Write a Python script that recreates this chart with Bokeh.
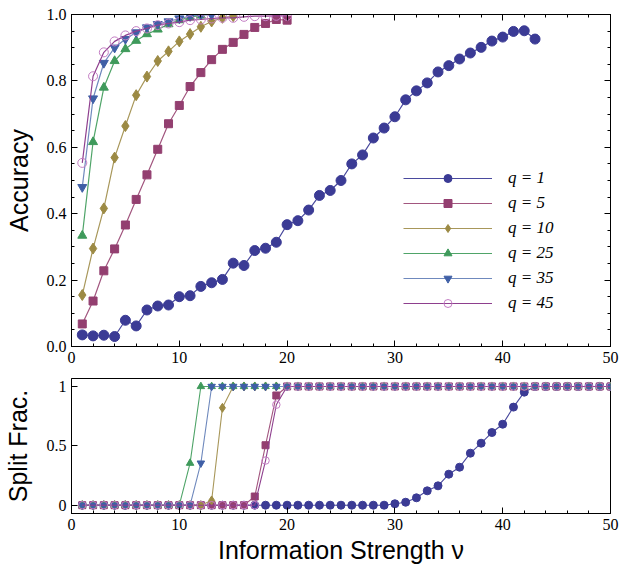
from bokeh.plotting import figure
from bokeh.layouts import column
from bokeh.models import (LinearAxis, SingleIntervalTicker, FixedTicker, Range1d,
                          Legend, LegendItem, PrintfTickFormatter)
from bokeh.embed import file_html
from bokeh.resources import INLINE

# ---- data -------------------------------------------------------------
q_labels = ["q = 1", "q = 5", "q = 10", "q = 25", "q = 35", "q = 45"]

# accuracy vs information strength, one list per q (nu starts at 1)
acc_q1 = [0.035, 0.032, 0.034, 0.030, 0.079, 0.062, 0.110, 0.122, 0.125, 0.150,
          0.153, 0.181, 0.192, 0.202, 0.251, 0.244, 0.289, 0.296, 0.314, 0.367,
          0.379, 0.411, 0.455, 0.470, 0.500, 0.550, 0.577, 0.628, 0.658, 0.692,
          0.743, 0.770, 0.794, 0.827, 0.846, 0.866, 0.884, 0.901, 0.920, 0.932,
          0.949, 0.951, 0.926]
acc_q5 = [0.068, 0.137, 0.228, 0.294, 0.366, 0.443, 0.517, 0.594, 0.671, 0.726,
          0.783, 0.825, 0.864, 0.895, 0.916, 0.940, 0.961, 0.973, 0.985, 0.983]
acc_q10 = [0.155, 0.295, 0.416, 0.569, 0.664, 0.757, 0.813, 0.860, 0.889, 0.919,
           0.941, 0.963, 0.979, 0.990, 0.995]
acc_q25 = [0.334, 0.616, 0.780, 0.860, 0.896, 0.921, 0.941, 0.955, 0.971, 0.983,
           0.992, 0.997]
acc_q35 = [0.480, 0.747, 0.854, 0.900, 0.926, 0.946, 0.961, 0.971, 0.979, 0.988,
           0.995, 0.999, 0.999]
acc_q45 = [0.553, 0.814, 0.886, 0.919, 0.937, 0.950, 0.958, 0.968, 0.973, 0.977,
           0.983, 0.985, 0.988, 0.990, 0.990, 0.993, 0.995, 0.995, 0.996, 0.996]

# split fraction, nu = 1 .. 50
split_q1 = [0, 0, 0, 0, 0, 0, 0, 0, 0, 0,
            0, 0, 0, 0, 0, 0, 0, 0, 0, 0,
            0, 0, 0, 0, 0, 0, 0, 0, 0, 0.012,
            0.025, 0.062, 0.121, 0.163, 0.261, 0.320, 0.438, 0.522, 0.612, 0.682,
            0.826, 0.952, 1, 1, 1, 1, 1, 1, 1, 1]
split_q5 = [0, 0, 0, 0, 0, 0, 0, 0, 0, 0,
            0, 0, 0, 0, 0, 0, 0.073, 0.505, 0.924, 1,
            1, 1, 1, 1, 1, 1, 1, 1, 1, 1,
            1, 1, 1, 1, 1, 1, 1, 1, 1, 1,
            1, 1, 1, 1, 1, 1, 1, 1, 1, 1]
split_q10 = [0, 0, 0, 0, 0, 0, 0, 0, 0, 0,
             0, 0, 0.04, 0.82, 1, 1, 1, 1, 1, 1,
             1, 1, 1, 1, 1, 1, 1, 1, 1, 1,
             1, 1, 1, 1, 1, 1, 1, 1, 1, 1,
             1, 1, 1, 1, 1, 1, 1, 1, 1, 1]
split_q25 = [0, 0, 0, 0, 0, 0, 0, 0, 0, 0,
             0.354, 1, 1, 1, 1, 1, 1, 1, 1, 1,
             1, 1, 1, 1, 1, 1, 1, 1, 1, 1,
             1, 1, 1, 1, 1, 1, 1, 1, 1, 1,
             1, 1, 1, 1, 1, 1, 1, 1, 1, 1]
split_q35 = [0, 0, 0, 0, 0, 0, 0, 0, 0, 0,
             0, 0.354, 1, 1, 1, 1, 1, 1, 1, 1,
             1, 1, 1, 1, 1, 1, 1, 1, 1, 1,
             1, 1, 1, 1, 1, 1, 1, 1, 1, 1,
             1, 1, 1, 1, 1, 1, 1, 1, 1, 1]
split_q45 = [0, 0, 0, 0, 0, 0, 0, 0, 0, 0,
             0, 0, 0, 0, 0, 0, 0, 0.376, 0.846, 1,
             1, 1, 1, 1, 1, 1, 1, 1, 1, 1,
             1, 1, 1, 1, 1, 1, 1, 1, 1, 1,
             1, 1, 1, 1, 1, 1, 1, 1, 1, 1]

accuracy = [acc_q1, acc_q5, acc_q10, acc_q25, acc_q35, acc_q45]
split = [split_q1, split_q5, split_q10, split_q25, split_q35, split_q45]

# ---- styles -----------------------------------------------------------
marker_colors = ["#3b3b95", "#933f70", "#9c8a44", "#3f9a5b", "#3f5fa6", "#c47ec4"]
line_colors = ["#4a4a9e", "#a2567f", "#a8975a", "#4fa468", "#6f89bd", "#8e3f8e"]
markers = ["circle", "square", "diamond", "triangle", "inverted_triangle", "circle"]
hollow = [False, False, False, False, False, True]
top_sizes = [10, 8, 11, 9, 9, 9]
bottom_sizes = [8, 7, 9, 7.5, 7.5, 7.5]

SERIF = "Liberation Serif"
SANS = "Liberation Sans"


def style_axis(ax, labels=True):
    ax.axis_line_color = "black"
    ax.major_tick_line_color = "black"
    ax.minor_tick_line_color = "black"
    ax.major_tick_in = 6
    ax.major_tick_out = 0
    ax.minor_tick_in = 3
    ax.minor_tick_out = 0
    ax.major_label_text_font = SERIF
    ax.major_label_text_color = "black"
    ax.major_label_text_font_size = "16px"
    ax.major_label_standoff = 5
    ax.axis_label_text_font = SANS
    ax.axis_label_text_font_style = "normal"
    ax.axis_label_text_font_size = "25px"
    ax.axis_label_text_color = "black"
    if not labels:
        # mirrored frame edge: ticks only, no tick labels
        ax.major_label_text_color = None
        ax.major_label_standoff = 0


def x_ticker():
    return SingleIntervalTicker(interval=10, num_minor_ticks=5)


def base_figure(frame_height, y_range, top, bottom):
    p = figure(frame_width=539, frame_height=frame_height,
               x_range=Range1d(0, 50), y_range=y_range,
               x_axis_location=None, y_axis_location=None,
               output_backend="svg", toolbar_location=None,
               min_border_left=71, min_border_right=9,
               min_border_top=top, min_border_bottom=bottom)
    p.xgrid.visible = False
    p.ygrid.visible = False
    p.outline_line_color = "black"
    p.outline_line_width = 1
    p.background_fill_color = "white"
    p.border_fill_color = "white"
    return p


# ---- top panel: accuracy ----------------------------------------------
p1 = base_figure(332, Range1d(0, 1), 14, 30)

ax = LinearAxis(ticker=x_ticker())
style_axis(ax)
p1.add_layout(ax, "below")
ax = LinearAxis(ticker=x_ticker())
style_axis(ax, labels=False)
p1.add_layout(ax, "above")
ay = LinearAxis(ticker=SingleIntervalTicker(interval=0.2, num_minor_ticks=4),
                formatter=PrintfTickFormatter(format="%.1f"),
                axis_label="Accuracy", axis_label_standoff=11)
style_axis(ay)
p1.add_layout(ay, "left")
ay = LinearAxis(ticker=SingleIntervalTicker(interval=0.2, num_minor_ticks=4))
style_axis(ay, labels=False)
p1.add_layout(ay, "right")

items = []
for i, ys in enumerate(accuracy):
    xs = list(range(1, len(ys) + 1))
    ln = p1.line(xs, ys, line_color=line_colors[i], line_width=1.2)
    sc = p1.scatter(xs, ys, marker=markers[i], size=top_sizes[i],
                    fill_color=None if hollow[i] else marker_colors[i],
                    line_color=marker_colors[i], line_width=1)
    items.append(LegendItem(label=q_labels[i], renderers=[ln, sc]))

legend = Legend(items=items, location=(332, 33), orientation="vertical",
                glyph_width=89, glyph_height=20, spacing=5, padding=0, margin=0,
                label_standoff=16, label_height=20,
                label_text_font=SERIF, label_text_font_style="italic",
                label_text_font_size="17px", label_text_color="black",
                border_line_color=None, background_fill_alpha=0)
p1.add_layout(legend)

# ---- bottom panel: split fraction -------------------------------------
p2 = base_figure(135, Range1d(-0.07, 1.067), 2, 10)

ax = LinearAxis(ticker=x_ticker(), axis_label="Information Strength ν",
                axis_label_standoff=3)
style_axis(ax)
p2.add_layout(ax, "below")
ay = LinearAxis(ticker=FixedTicker(ticks=[0, 0.5, 1], minor_ticks=[]),
                axis_label="Split Frac.", axis_label_standoff=12)
style_axis(ay)
ay.major_label_overrides = {0: "0", 0.5: "0.5", 1: "1"}
p2.add_layout(ay, "left")

nu = list(range(1, 51))
for i, ys in enumerate(split):
    p2.line(nu, ys, line_color=line_colors[i], line_width=1.1)
    p2.scatter(nu, ys, marker=markers[i], size=bottom_sizes[i],
               fill_color=None if hollow[i] else marker_colors[i],
               line_color=marker_colors[i], line_width=1)

layout = column(p1, p2, spacing=0)
open("out.html", "w").write(file_html(layout, INLINE))
